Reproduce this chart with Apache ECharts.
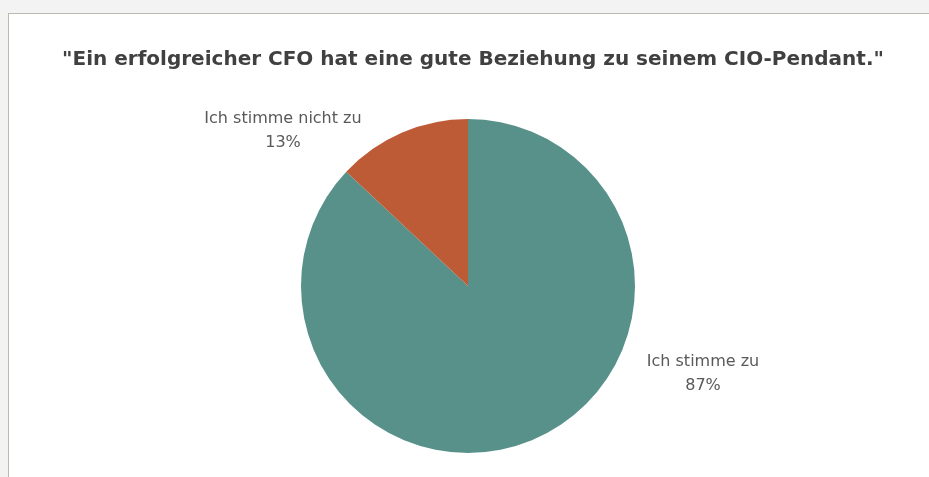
<!DOCTYPE html>
<html>
<head>
<meta charset="utf-8">
<script src="https://cdn.jsdelivr.net/npm/echarts@6/dist/echarts.min.js"></script>
<style>
    html, body { margin: 0; padding: 0; background: #f3f3f3; overflow: hidden; }
    #chart {
        position: absolute;
        left: 8px;
        top: 13px;
        width: 940px;
        height: 480px;
        background: #fff;
        border-left: 1px solid #bcb9ae;
        border-top: 1px solid #bcb9ae;
    }
</style>
</head>
<body>
<div id="chart"></div>
<script>
    // Data
    var categories = ['Ich stimme zu', 'Ich stimme nicht zu'];
    var values = [87, 13];
    var colors = ['#58918a', '#be5b37'];

    // Label anchor points (chart pixels), one per category
    var labelX = [694, 274];
    var labelY = [360, 117];

    var chart = echarts.init(document.getElementById('chart'));

    chart.setOption({

        animation: false,

        // Add title
        title: {
            text: '"Ein erfolgreicher CFO hat eine gute Beziehung zu seinem CIO-Pendant."',
            left: 459,
            textAlign: 'center',
            top: 31,
            textStyle: {
                fontFamily: '"DejaVu Sans", sans-serif',
                fontSize: 20,
                fontWeight: 'bold',
                color: '#404040'
            }
        },

        // Add series
        series: [{
            type: 'pie',
            center: [459, 272],
            radius: 167,
            startAngle: 90,
            clockwise: true,
            itemStyle: {
                borderWidth: 0
            },
            label: {
                show: true,
                position: 'outside',
                formatter: '{b}\n{d}%',
                fontFamily: '"DejaVu Sans", sans-serif',
                fontSize: 16,
                lineHeight: 24,
                color: '#595959',
                align: 'center'
            },
            labelLine: { show: false },
            labelLayout: function (params) {
                return {
                    x: labelX[params.dataIndex],
                    y: labelY[params.dataIndex],
                    align: 'center',
                    verticalAlign: 'middle'
                };
            },
            emphasis: { disabled: true },
            data: categories.map(function (name, i) {
                return { name: name, value: values[i], itemStyle: { color: colors[i] } };
            })
        }]
    });
</script>
</body>
</html>
